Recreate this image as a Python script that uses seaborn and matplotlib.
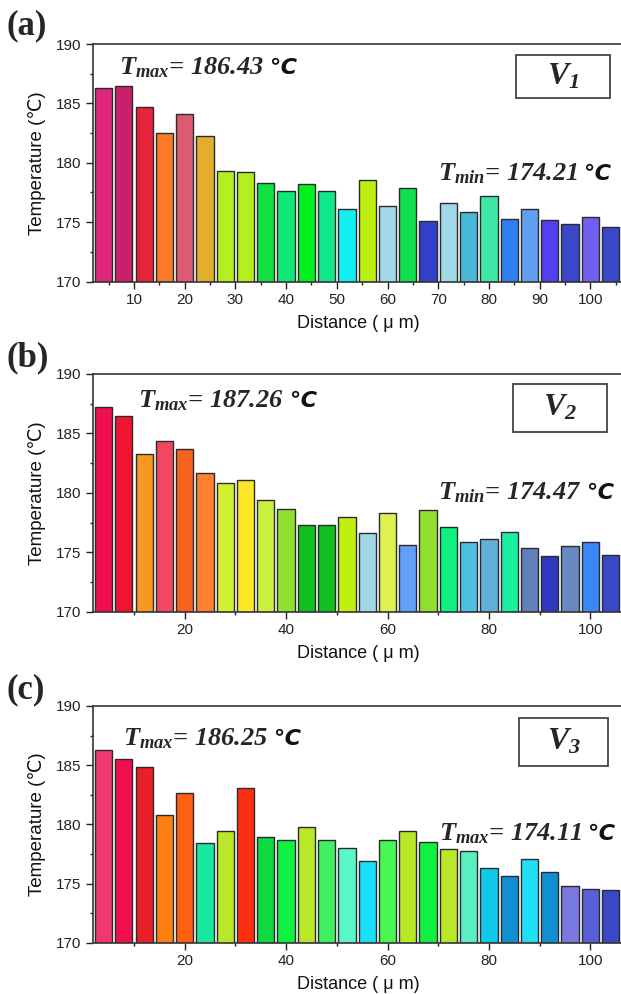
import numpy as np
import pandas as pd
import matplotlib
matplotlib.use("Agg")
import matplotlib.pyplot as plt
from matplotlib.patches import Rectangle
from matplotlib.ticker import MultipleLocator
import seaborn as sns

# ---------------- data ----------------
distance = [4, 8, 12, 16, 20, 24, 28, 32, 36, 40, 44, 48, 52,
            56, 60, 64, 68, 72, 76, 80, 84, 88, 92, 96, 100, 104]

temp_v1 = [186.30, 186.43, 184.73, 182.51, 184.08, 182.29, 179.28, 179.23,
           178.33, 177.60, 178.19, 177.60, 176.09, 178.58, 176.40, 177.85,
           175.11, 176.59, 175.89, 177.21, 175.30, 176.14, 175.22, 174.88,
           175.47, 174.63]
temp_v2 = [187.26, 186.47, 183.25, 184.40, 183.70, 181.65, 180.84, 181.09,
           179.41, 178.68, 177.28, 177.28, 178.01, 176.64, 178.28, 175.60,
           178.57, 177.11, 175.85, 176.13, 176.75, 175.38, 174.68, 175.55,
           175.85, 174.76]
temp_v3 = [186.25, 185.51, 184.84, 180.80, 182.68, 178.44, 179.42, 183.10,
           178.98, 178.72, 179.79, 178.72, 177.99, 176.93, 178.67, 179.45,
           178.53, 177.94, 177.80, 176.31, 175.69, 177.12, 175.95, 174.77,
           174.54, 174.46]

colors_v1 = ["#E0287A", "#C8206A", "#E8243C", "#FA7A28", "#DC5A72", "#E3AE2E",
             "#B4F020", "#B4F020", "#10E040", "#10E878", "#00F020", "#10E88A",
             "#10F0F0", "#BCEE10", "#A0D8E8", "#10E050", "#3040C8", "#A0D8E8",
             "#48B8D8", "#40E8A8", "#3080F0", "#60A0F0", "#5040F0", "#3848C8",
             "#7060F0", "#3848C8"]
colors_v2 = ["#F01050", "#F01430", "#F89820", "#F04860", "#F86420", "#FC8030",
             "#D0F030", "#FCE828", "#C8F040", "#90E030", "#10C020", "#10C020",
             "#C0F010", "#A0D8E8", "#E0F050", "#60A0F8", "#90E030", "#10F080",
             "#50C0E0", "#60B0D8", "#18F0A0", "#6080B8", "#3038C0", "#6888C0",
             "#3888F8", "#3848C8"]
colors_v3 = ["#F03870", "#F01050", "#E82028", "#FC8010", "#FC6010", "#18E8A0",
             "#B8E828", "#FC3010", "#10D840", "#10F040", "#B8E828", "#40F060",
             "#58F8C8", "#18E0F8", "#48F850", "#B8E828", "#10F040", "#B8E828",
             "#58F0C0", "#10C8E8", "#1090D0", "#20E0F8", "#1090D0", "#7878E0",
             "#5860D8", "#3848C8"]

panel_labels = ["(a)", "(b)", "(c)"]
version_subs = ["1", "2", "3"]
tmax_values = ["186.43", "187.26", "186.25"]
tlow_values = ["174.21", "174.47", "174.11"]
tlow_subs = ["min", "min", "max"]
x_major = [10, 20, 20]

temps = [temp_v1, temp_v2, temp_v3]
colors = [colors_v1, colors_v2, colors_v3]

# ---------------- style ----------------
sns.set_style("ticks")
plt.rcParams["font.family"] = ["Liberation Sans", "DejaVu Sans"]
plt.rcParams["mathtext.fontset"] = "custom"
plt.rcParams["mathtext.it"] = "Liberation Serif:italic:bold"
plt.rcParams["mathtext.rm"] = "Liberation Serif:italic:bold"
plt.rcParams["mathtext.bf"] = "Liberation Serif:italic:bold"

W, H = 621, 994
fig = plt.figure(figsize=(W / 100, H / 100), dpi=100)
fig.patch.set_facecolor("white")


def fx(px):
    return px / W


def fy(py):
    return 1 - py / H


panel_geom = [  # top, bottom (pixels)
    (44, 281.5),
    (374, 612),
    (706, 943),
]
tmax_pos = [(119, 74), (138, 407), (123, 745)]   # left, baseline
tlow_pos = [(438, 180), (438, 499), (439, 840)]
box_geom = [(515.7, 55, 610, 98.3), (513, 384, 607, 432), (519, 718, 608, 766)]
label_pos = [(6, 26), (6, 358), (6, 690)]

left_px, right_px = 92.5, 625
x_per_px = 1 / 5.07
x0_px = 83.3

serif_kw = dict(family="Liberation Serif", fontweight="bold", style="italic")
main_texts = []

for i in range(3):
    top, bot = panel_geom[i]
    ax = fig.add_axes([fx(left_px), fy(bot), fx(right_px) - fx(left_px), (bot - top) / H])
    df = pd.DataFrame({
        "Distance": distance,
        "Temperature": temps[i],
        "key": [str(d) for d in distance],
    })
    pal = dict(zip(df["key"], colors[i]))
    sns.barplot(data=df, x="Distance", y="Temperature", hue="key", palette=pal,
                dodge=False, native_scale=True, width=0.85, edgecolor="#2a2a2a",
                linewidth=1.0, legend=False, saturation=1, ax=ax)
    ax.set_xlim((left_px - x0_px) * x_per_px, (right_px - x0_px) * x_per_px)
    ax.set_ylim(170, 190)
    ax.xaxis.set_major_locator(MultipleLocator(x_major[i]))
    ax.xaxis.set_minor_locator(MultipleLocator(x_major[i] / 2))
    ax.yaxis.set_major_locator(MultipleLocator(5))
    ax.yaxis.set_minor_locator(MultipleLocator(2.5))
    ax.tick_params(which="major", direction="out", length=5, width=1.0,
                   labelsize=11, colors="#222222", pad=3)
    ax.tick_params(which="minor", direction="out", length=2.5, width=1.0, colors="#222222")
    for s in ax.spines.values():
        s.set_color("#333333")
        s.set_linewidth(1.2)
    ax.set_facecolor("white")
    ax.set_xlabel("Distance ( μ m)", fontsize=13, labelpad=6, color="#111111")
    ax.set_ylabel("Temperature (℃)", fontsize=13.5, labelpad=7, color="#111111")

    # panel label
    fig.text(fx(label_pos[i][0]), fy(label_pos[i][1]), panel_labels[i],
             ha="left", va="center", fontsize=25, fontweight="bold",
             family="Liberation Serif")

    # annotations (main part; the ℃ sign is appended afterwards)
    t1 = fig.text(fx(tmax_pos[i][0]), fy(tmax_pos[i][1]),
                  r"$T_{max}$= " + tmax_values[i],
                  ha="left", va="baseline", fontsize=19, **serif_kw)
    t2 = fig.text(fx(tlow_pos[i][0]), fy(tlow_pos[i][1]),
                  r"$T_{%s}$= " % tlow_subs[i] + tlow_values[i],
                  ha="left", va="baseline", fontsize=19, **serif_kw)
    main_texts.append((t1, tmax_pos[i][1]))
    main_texts.append((t2, tlow_pos[i][1]))

    # version box
    bx0, by0, bx1, by1 = box_geom[i]
    rect = Rectangle((fx(bx0), fy(by1)), fx(bx1) - fx(bx0), (by1 - by0) / H,
                     transform=fig.transFigure, fill=False,
                     edgecolor="#444444", linewidth=1.3)
    fig.patches.append(rect)
    fig.text(fx((bx0 + bx1) / 2), fy((by0 + by1) / 2),
             r"$V_{%s}$" % version_subs[i], ha="center", va="center",
             fontsize=23)

# append the ℃ sign after each annotation
fig.canvas.draw()
renderer = fig.canvas.get_renderer()
for t, base in main_texts:
    bb = t.get_window_extent(renderer)
    fig.text(fx(bb.x1 + 5), fy(base), "℃", ha="left", va="baseline",
             fontsize=16, family="DejaVu Sans", fontweight="bold",
             style="italic", color="#111111")

fig.savefig("out.png", dpi=100, facecolor="white")
